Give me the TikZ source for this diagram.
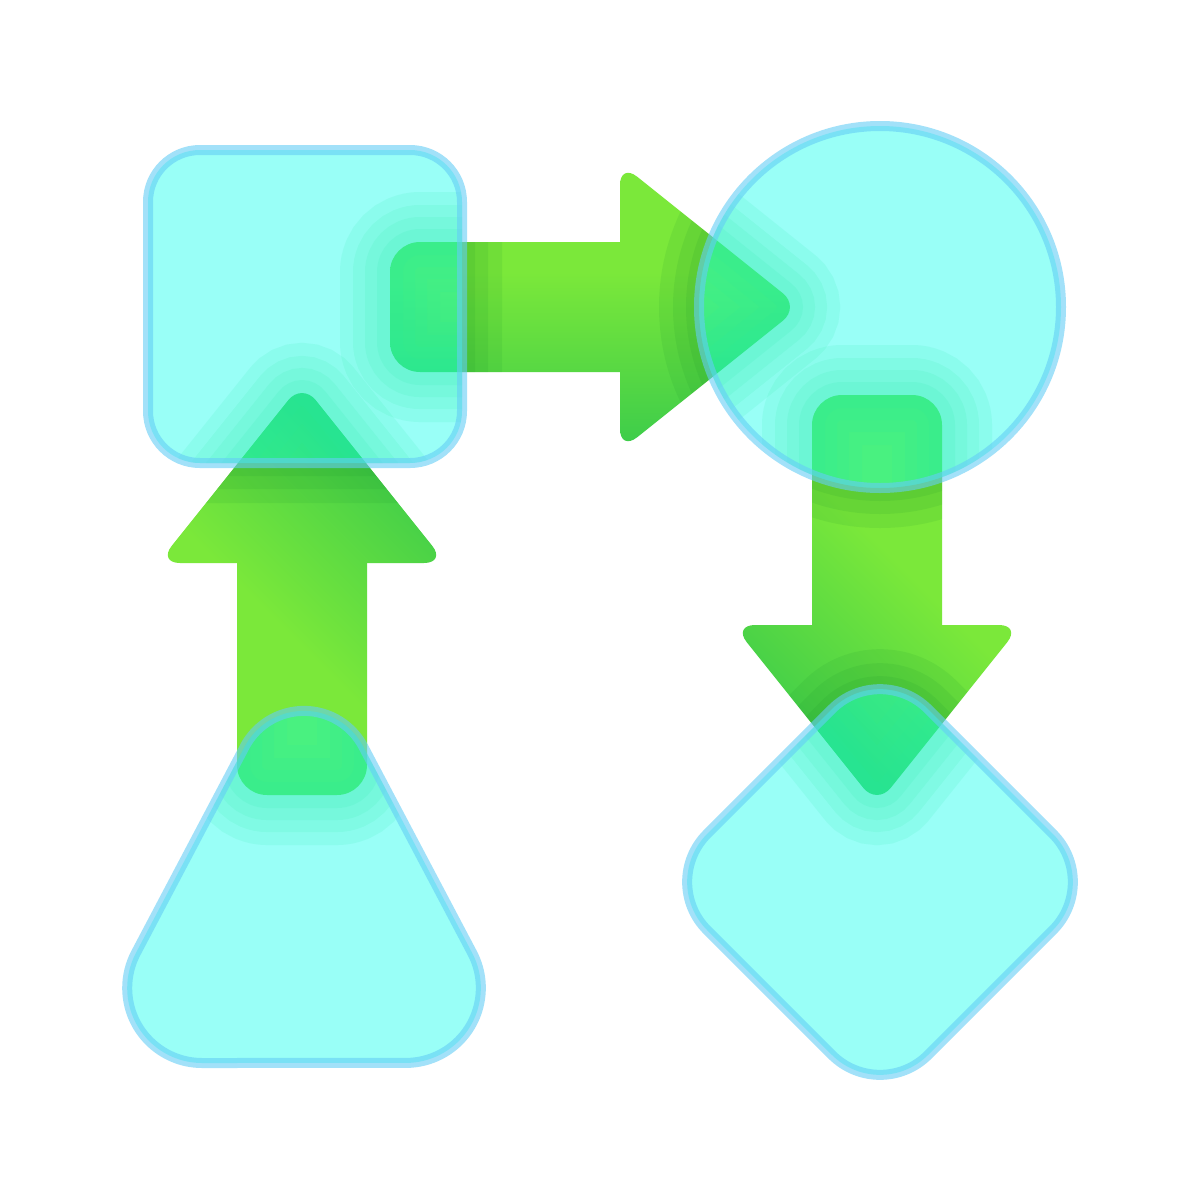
\documentclass[tikz,border=0pt]{standalone}
\definecolor{aLight}{RGB}{123,232,58}
\definecolor{aDark}{RGB}{40,195,80}
\definecolor{shFill}{RGB}{0,255,235}
\definecolor{shLine}{RGB}{100,205,245}
\definecolor{glowC}{RGB}{60,220,110}
\definecolor{shadC}{RGB}{20,140,40}
\pgfdeclareverticalshading{agrad}{100bp}{color(0bp)=(aDark); color(16bp)=(aDark); color(56bp)=(aLight); color(100bp)=(aLight)}
% shapes (stroke centre lines)
\newcommand\PSq{(148,150) rectangle (462,463)}
\newcommand\PCi{(880,307) circle[radius=181]}
\newcommand\PTr{(244.7,746.7) arc[start angle=207.75, end angle=332.25, radius=67]
  -- (472.2,953) arc[start angle=-27.75, end angle=90, radius=75]
  -- (202.2,1063) arc[start angle=90, end angle=207.75, radius=75] -- cycle}
\newcommand\PDi{(769.5,992.5) -- (659,882) -- (880,661) -- (1101,882) -- (880,1103) -- cycle}
% arrows (shaft and head)
\newcommand\RShaft{(390,242) rectangle (660,372)}
\newcommand\RHead{(620,307) -- (620,163) -- (800,307) -- (620,451) -- cycle}
\newcommand\UShaft{(237,520) rectangle (367,795)}
\newcommand\UHead{(302,563) -- (158,563) -- (302,383) -- (446,563) -- cycle}
\newcommand\DShaft{(812,395) rectangle (942,665)}
\newcommand\DHead{(877,625) -- (733,625) -- (877,805) -- (1021,625) -- cycle}
\tikzset{
  sqr/.style={rounded corners=52},
  cir/.style={},
  tri/.style={},
  dia/.style={rounded corners=68},
  shaft/.style={rounded corners=30},
  head/.style={rounded corners=22},
  shapebody/.style={fill=shFill, fill opacity=.4, draw=shLine, draw opacity=.6, line width=10},
  shadeR/.style={shading=agrad},
  shadeU/.style={shading=agrad, shading angle=135},
  shadeD/.style={shading=agrad, shading angle=-45},
}
\newcommand\OutShadow[2]{%
  \begin{scope}[even odd rule]
    \clip (-10,-10) rectangle (1210,1210) [#1] #2;
    \foreach \w in {80,52,26} \draw[shadC, opacity=.10, line width=\w, #1] #2;
  \end{scope}}
\newcommand\InGlow[4]{%
  \begin{scope}
    \clip[#1] #2;
    \foreach \w in {100,74,50,26} \draw[glowC, opacity=.11, line width=\w, #3] #4;
  \end{scope}}
\begin{document}
\begin{tikzpicture}[x=1pt,y=-1pt]
\useasboundingbox (0,0) rectangle (1200,1200);
\fill[white] (0,0) rectangle (1200,1200);
\coordinate (square) at (305,306);
\coordinate (circle) at (880,307);
\coordinate (triangle) at (304,900);
\coordinate (diamond) at (880,882);

% ---- right arrow (square -> circle)
\begin{scope}
  \clip[shaft] \RShaft;
  \shade[shadeR] (390,163) rectangle (800,451);
  \OutShadow{sqr}{\PSq}
\end{scope}
\begin{scope}
  \clip[head] \RHead;
  \shade[shadeR] (390,163) rectangle (800,451);
  \OutShadow{cir}{\PCi}
\end{scope}

% ---- up arrow (triangle -> square)
\begin{scope}
  \clip[shaft] \UShaft;
  \shade[shadeU] (158,383) rectangle (446,795);
\end{scope}
\begin{scope}
  \clip[head] \UHead;
  \shade[shadeU] (158,383) rectangle (446,795);
  \OutShadow{sqr}{\PSq}
\end{scope}

% ---- down arrow (circle -> diamond)
\begin{scope}
  \clip[shaft] \DShaft;
  \shade[shadeD] (733,395) rectangle (1021,805);
  \OutShadow{cir}{\PCi}
\end{scope}
\begin{scope}
  \clip[head] \DHead;
  \shade[shadeD] (733,395) rectangle (1021,805);
  \OutShadow{dia}{\PDi}
\end{scope}

% ---- glows inside shapes
\InGlow{sqr}{\PSq}{shaft}{\RShaft}
\InGlow{sqr}{\PSq}{head}{\UHead}
\InGlow{cir}{\PCi}{head}{\RHead}
\InGlow{cir}{\PCi}{shaft}{\DShaft}
\InGlow{tri}{\PTr}{shaft}{\UShaft}
\InGlow{dia}{\PDi}{head}{\DHead}

% ---- shapes
\draw[shapebody, sqr] \PSq;
\draw[shapebody, cir] \PCi;
\draw[shapebody, tri] \PTr;
\draw[shapebody, dia] \PDi;
\end{tikzpicture}
\end{document}
